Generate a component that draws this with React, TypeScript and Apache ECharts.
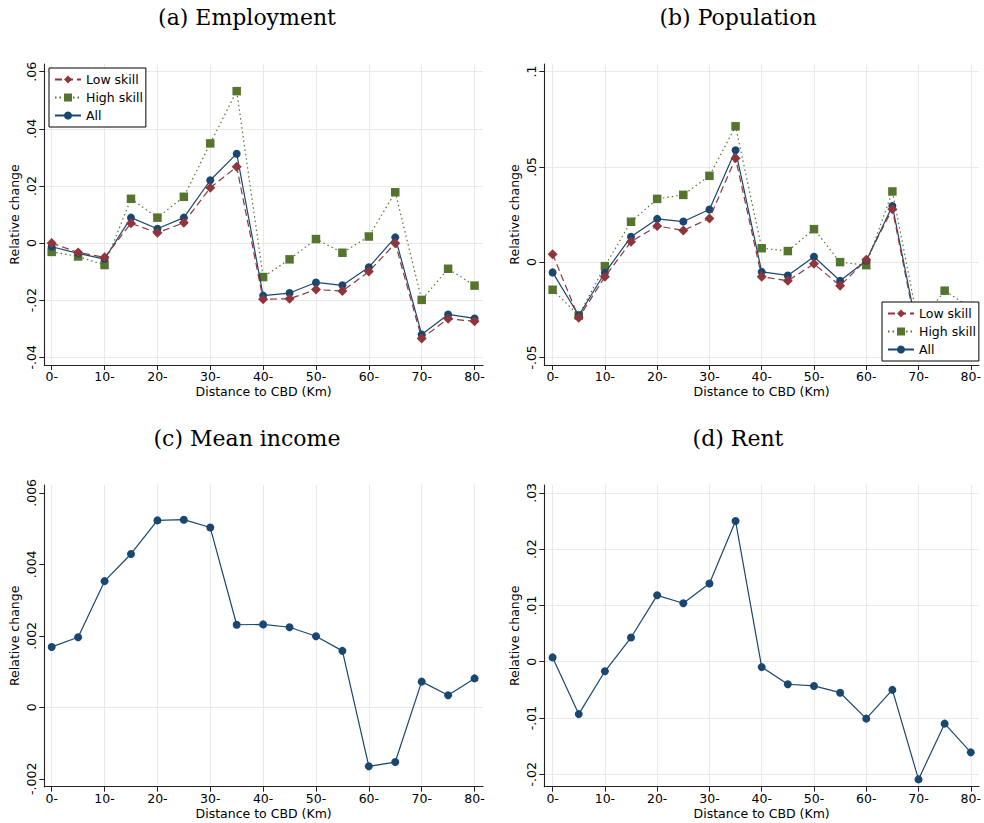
import React, { useEffect, useRef } from "react";
import * as echarts from "echarts";

// ---- data ----
const distance = [0, 5, 10, 15, 20, 25, 30, 35, 40, 45, 50, 55, 60, 65, 70, 75, 80];
const xTicks = [0, 10, 20, 30, 40, 50, 60, 70, 80];

const empLow = [0, -0.0033, -0.005, 0.0069, 0.0036, 0.0071, 0.0194, 0.0267, -0.0197, -0.0195, -0.0163, -0.0168, -0.01, -0.0001, -0.0334, -0.0265, -0.0274];
const empHigh = [-0.0031, -0.0047, -0.0077, 0.0155, 0.0089, 0.0162, 0.0349, 0.0532, -0.0119, -0.0057, 0.0014, -0.0034, 0.0023, 0.0178, -0.0199, -0.009, -0.0149];
const empAll = [-0.0013, -0.0036, -0.0056, 0.0089, 0.005, 0.0089, 0.022, 0.0313, -0.0184, -0.0175, -0.0138, -0.0148, -0.0085, 0.002, -0.032, -0.025, -0.0264];

const popLow = [0.0042, -0.0292, -0.0077, 0.0107, 0.019, 0.0166, 0.0229, 0.0545, -0.0077, -0.0098, -0.0009, -0.0124, 0.0012, 0.0278, -0.041, -0.031, -0.032];
const popHigh = [-0.0145, -0.028, -0.0021, 0.0212, 0.0332, 0.0353, 0.0453, 0.0713, 0.0073, 0.0058, 0.0173, 0, -0.0016, 0.0371, -0.033, -0.015, -0.024];
const popAll = [-0.0054, -0.028, -0.0056, 0.0133, 0.0227, 0.0213, 0.0276, 0.0587, -0.0051, -0.007, 0.0028, -0.0098, 0.0007, 0.0295, -0.039, -0.029, -0.031];

const incomeAll = [0.00169, 0.00196, 0.00353, 0.00429, 0.00523, 0.00525, 0.00503, 0.00231, 0.00232, 0.00224, 0.00199, 0.00158, -0.00165, -0.00153, 0.00072, 0.00034, 0.00081];
const rentAll = [0.00077, -0.0093, -0.0017, 0.0043, 0.0118, 0.0104, 0.0139, 0.025, -0.00095, -0.004, -0.0043, -0.0055, -0.0101, -0.005, -0.0209, -0.011, -0.0161];

const empTicks = [-0.04, -0.02, 0, 0.02, 0.04, 0.06];
const popTicks = [-0.05, 0, 0.05, 0.1];
const incomeTicks = [-0.002, 0, 0.002, 0.004, 0.006];
const rentTicks = [-0.02, -0.01, 0, 0.01, 0.02, 0.03];

const titles = ["(a) Employment", "(b) Population", "(c) Mean income", "(d) Rent"];
const seriesNames = ["Low skill", "High skill", "All"];

const RED = "#90353b";
const GREEN = "#55752f";
const NAVY = "#1a476f";
const GRIDC = "#e9e9e9";
const SANS = "DejaVu Sans";
const SERIF = "DejaVu Serif";

const pairs = (ys: number[]) => distance.map((x, i) => [x, ys[i]]);

const fmtY = (v: number) => {
  if (Math.abs(v) < 1e-12) return "0";
  const s = String(+v.toFixed(5));
  return s.replace(/^(-?)0\./, "$1.");
};

export default function App() {
  const ref = useRef<HTMLDivElement>(null);
  useEffect(() => {
    if (!ref.current) return;
    const chart = echarts.init(ref.current, undefined, { renderer: "svg" });

    const grids = [
      { left: 44.3, top: 64, width: 438.7, height: 301 },
      { left: 544.3, top: 64, width: 438.7, height: 301 },
      { left: 44.3, top: 485, width: 438.7, height: 301.7 },
      { left: 544.3, top: 485, width: 438.7, height: 301.7 },
    ];
    const xRanges = [
      [-1.4, 81.6],
      [-1.59, 81.57],
      [-1.4, 81.6],
      [-1.59, 81.57],
    ];
    const yRanges = [
      [-0.0427, 0.0627],
      [-0.054, 0.104],
      [-0.00222, 0.00622],
      [-0.0222, 0.0314],
    ];
    const yTickSets = [empTicks, popTicks, incomeTicks, rentTicks];
    const panelData = [empAll, popAll, incomeAll, rentAll];

    const axisLine = { show: true, onZero: false, lineStyle: { color: "#222", width: 1.1 } };

    const xAxis = grids.map((_, i) => ({
      type: "value",
      gridIndex: i,
      min: xRanges[i][0],
      max: xRanges[i][1],
      name: "Distance to CBD (Km)",
      nameLocation: "middle",
      nameGap: 20,
      nameTextStyle: { fontFamily: SANS, fontSize: 12.5, color: "#000" },
      axisLine,
      axisTick: { show: true, length: 5, customValues: xTicks, lineStyle: { color: "#222" } },
      axisLabel: {
        customValues: xTicks,
        formatter: (v: number) => `${v}-`,
        fontFamily: SANS,
        fontSize: 12.5,
        color: "#000",
        margin: 5,
      },
      splitLine: { show: false },
      z: 6,
    }));

    const yAxis = grids.map((_, i) => ({
      type: "value",
      gridIndex: i,
      min: yRanges[i][0],
      max: yRanges[i][1],
      name: "Relative change",
      nameLocation: "middle",
      nameGap: 23,
      nameTextStyle: { fontFamily: SANS, fontSize: 12.5, color: "#000" },
      axisLine,
      axisTick: { show: true, length: 5, customValues: yTickSets[i], lineStyle: { color: "#222" } },
      axisLabel: {
        customValues: yTickSets[i],
        formatter: fmtY,
        rotate: 90,
        fontFamily: SANS,
        fontSize: 12.5,
        color: "#000",
        margin: 6,
      },
      splitLine: { show: false },
      z: 6,
    }));

    // Gridlines: invisible carrier series with markLines at the tick values
    const gridSeries = grids.map((_, i) => ({
      type: "line",
      name: `grid${i}`,
      xAxisIndex: i,
      yAxisIndex: i,
      data: pairs(panelData[i]),
      showSymbol: false,
      symbol: "none",
      silent: true,
      z: 0,
      lineStyle: { opacity: 0 },
      markLine: {
        silent: true,
        z: 0,
        symbol: ["none", "none"],
        label: { show: false },
        animation: false,
        lineStyle: { color: GRIDC, width: 1, type: "solid" },
        emphasis: { disabled: true },
        data: [
          ...xTicks.map((v) => ({ xAxis: v })),
          ...yTickSets[i].map((v) => ({ yAxis: v })),
        ],
      },
    }));

    const mk = (name: string, data: number[], idx: number, kind: "low" | "high" | "all") => {
      const conf = {
        low: { color: RED, symbol: "diamond", symbolSize: 10, type: [7, 4] as any, z: 4 },
        high: { color: GREEN, symbol: "rect", symbolSize: 8.5, type: [1.5, 3] as any, z: 2 },
        all: { color: NAVY, symbol: "circle", symbolSize: 8, type: "solid" as any, z: 3 },
      }[kind];
      return {
        type: "line",
        name,
        xAxisIndex: idx,
        yAxisIndex: idx,
        data: pairs(data),
        symbol: conf.symbol,
        symbolSize: conf.symbolSize,
        showSymbol: true,
        z: conf.z,
        itemStyle: { color: conf.color },
        lineStyle: { color: conf.color, width: 1.2, type: conf.type },
      };
    };

    const series = [
      ...gridSeries,
      mk("High skill", empHigh, 0, "high"),
      mk("All", empAll, 0, "all"),
      mk("Low skill", empLow, 0, "low"),
      mk("High skill", popHigh, 1, "high"),
      mk("All", popAll, 1, "all"),
      mk("Low skill", popLow, 1, "low"),
      mk("All", incomeAll, 2, "all"),
      mk("All", rentAll, 3, "all"),
    ];

    const legendBase = {
      orient: "vertical",
      itemWidth: 26,
      itemHeight: 10,
      itemGap: 5,
      padding: [5, 3, 5, 5],
      borderColor: "#000",
      borderWidth: 1,
      borderRadius: 0,
      backgroundColor: "#fff",
      selectedMode: false,
      textStyle: { fontFamily: SANS, fontSize: 12.5, color: "#000" },
      data: seriesNames,
      z: 10,
    };

    const titleCenters = [
      [247, 6],
      [738, 6],
      [247, 427],
      [738, 427],
    ];

    chart.setOption({
      animation: false,
      backgroundColor: "#fff",
      title: titles.map((t, i) => ({
        text: t,
        left: titleCenters[i][0],
        top: titleCenters[i][1],
        textAlign: "center",
        padding: 0,
        textStyle: { fontFamily: SERIF, fontSize: 22, fontWeight: "normal", color: "#000" },
      })),
      legend: [
        { ...legendBase, left: 49, top: 68 },
        { ...legendBase, left: 882, top: 302 },
      ],
      grid: grids,
      xAxis,
      yAxis,
      series,
    });

    return () => chart.dispose();
  }, []);

  return (
    <div
      ref={ref}
      style={{ position: "fixed", left: 0, top: 0, width: 984, height: 823, background: "#fff" }}
    />
  );
}
